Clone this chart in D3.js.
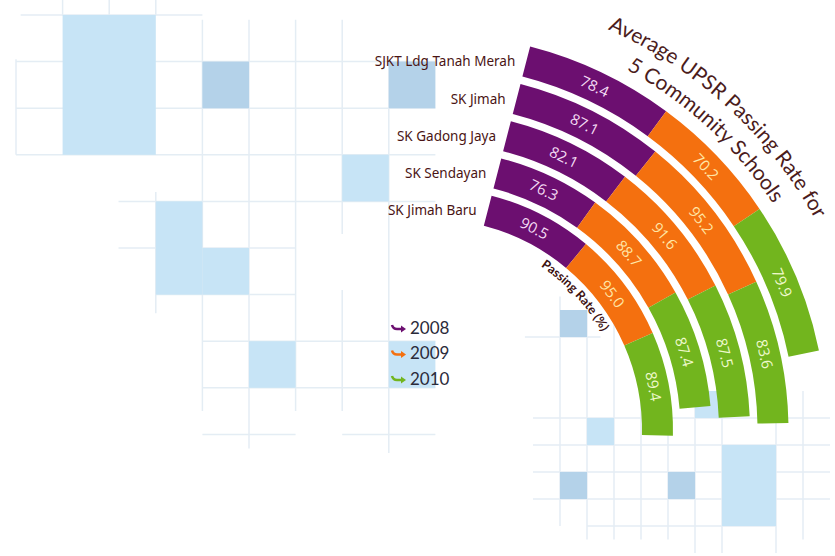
<!DOCTYPE html>
<html>
<head>
<meta charset="UTF-8">
<title>Average UPSR Passing Rate</title>
<script src="https://cdn.jsdelivr.net/npm/d3@7"></script>
<style>
  html, body { margin: 0; padding: 0; background: #fff; }
  svg { display: block; }
  .school { font-family: "Noto Sans", sans-serif; font-size: 13.5px; fill: #4a1414; }
  .val { font-family: "Open Sans", sans-serif; font-size: 15px; }
  .title { font-family: "Lato", sans-serif; font-size: 21px; fill: #4b1c1c; }
  .axis-label { font-family: "Lato", sans-serif; font-size: 12.5px; font-weight: bold; fill: #3c1010; }
  .legend { font-family: "Lato", sans-serif; font-size: 17px; fill: #2b2b3a; }
</style>
</head>
<body>
<svg width="835" height="556"></svg>
<script>

// DATA

var schools = ["SJKT Ldg Tanah Merah", "SK Jimah", "SK Gadong Jaya", "SK Sendayan", "SK Jimah Baru"];
var years = ["2008", "2009", "2010"];
var rate2008 = [78.4, 87.1, 82.1, 76.3, 90.5];
var rate2009 = [70.2, 95.2, 91.6, 88.7, 95.0];
var rate2010 = [79.9, 83.6, 87.5, 87.4, 89.4];
var yearColors = ["#6c0f70", "#f4700f", "#72b51e"];
var labelColors = ["#f4dcf4", "#ffe6a6", "#eef9cc"];

// background decoration (grid cells), [col, row, w, h, shade]
var bigCells = [[1,0,2,3,0],[4,1,1,1,1],[8,1,1,1,1],[7,3,1,1,0],[3,4,1,2,0],[4,5,1,1,0],[5,7,1,1,0],[8,7,1,1,0]];
var bigVLines = [[0,0.95,3],[1,-0.4,0],[2,-0.4,0],[3,-0.4,0],[3,3.8,6.4],[4,0.1,8.5],[5,0.1,9.3],[6,0.1,8.5],[7,0.1,4.7],[7,5.9,8.5],[8,1,9.4]];
var bigHLines = [[0,0.1,4],[1,0,9],[2,0,9],[3,0,9],[4,2.2,9],[5,2.2,6],[6,3,6],[7,4,9],[8,4,9],[9,4,6],[9,7,9]];
var smallCells = [[1,0,1,1,1],[2,4,1,1,0],[6,3,1,1,0],[1,6,1,1,1],[5,6,1,1,1],[7,5,2,3,0]];
var smallVLines = [[1,-0.5,8],[2,-0.5,8.5],[3,0,8.5],[4,2,8.5],[5,3,8.5],[6,3,9],[7,3,9],[9,3,9],[10,3,8.5]];
var smallHLines = [[1,-0.3,2.5],[4,0,11],[5,0,11],[6,0,11],[7,0,11],[8,2,9]];

// SETUP

var svg = d3.select("svg"),
    cx = 431, cy = 430,
    deg = Math.PI / 180;

var table = schools.map(function (s, i) {
  return { school: s, "2008": rate2008[i], "2009": rate2009[i], "2010": rate2010[i] };
});
var series = d3.stack().keys(years)(table);

// angle: shared value scale along the quarter ring
var angle = d3.scaleLinear().domain([0, 300]).range([14.5 * deg, 98.4 * deg]);
// radius: one band per school, outermost first
var radius = d3.scaleBand().domain(schools).range([396, 211]).paddingInner(0.195);

var arc = d3.arc()
  .innerRadius(function (d) { return radius(d.data.school); })
  .outerRadius(function (d) { return radius(d.data.school) + radius.bandwidth(); })
  .startAngle(function (d) { return angle(d[0]); })
  .endAngle(function (d) { return angle(d[1]); });

function polar(a, r) { return [cx + r * Math.sin(a), cy - r * Math.cos(a)]; }
function arcPath(r, a0, a1) {
  var p0 = polar(a0, r), p1 = polar(a1, r);
  return "M" + p0[0] + "," + p0[1] + "A" + r + "," + r + " 0 0 1 " + p1[0] + "," + p1[1];
}

// BACKGROUND

var bg = svg.append("g");
var big = { x: d3.scaleLinear().domain([0, 1]).range([16, 62.6]), y: d3.scaleLinear().domain([0, 1]).range([15, 61.6]) };
var small = { x: d3.scaleLinear().domain([0, 1]).range([533, 560]), y: d3.scaleLinear().domain([0, 1]).range([310, 337]) };

function drawGrid(grid, cells, vl, hl) {
  bg.selectAll(null).data(vl).enter().append("line")
    .attr("x1", function (d) { return grid.x(d[0]); }).attr("x2", function (d) { return grid.x(d[0]); })
    .attr("y1", function (d) { return grid.y(d[1]); }).attr("y2", function (d) { return grid.y(d[2]); })
    .attr("stroke", "#e4edf4").attr("stroke-width", 1.5);
  bg.selectAll(null).data(hl).enter().append("line")
    .attr("y1", function (d) { return grid.y(d[0]); }).attr("y2", function (d) { return grid.y(d[0]); })
    .attr("x1", function (d) { return grid.x(d[1]); }).attr("x2", function (d) { return grid.x(d[2]); })
    .attr("stroke", "#e4edf4").attr("stroke-width", 1.5);
  bg.selectAll(null).data(cells).enter().append("rect")
    .attr("x", function (d) { return grid.x(d[0]); })
    .attr("y", function (d) { return grid.y(d[1]); })
    .attr("width", function (d) { return grid.x(d[2]) - grid.x(0); })
    .attr("height", function (d) { return grid.y(d[3]) - grid.y(0); })
    .attr("fill", function (d) { return d[4] ? "#b4d2e9" : "#c7e4f6"; });
}
drawGrid(big, bigCells, bigVLines, bigHLines);
drawGrid(small, smallCells, smallVLines, smallHLines);

// RINGS

var layers = svg.append("g").selectAll("g")
  .data(series)
  .enter().append("g")
  .attr("transform", "translate(" + cx + "," + cy + ")");

layers.each(function (s, k) {
  var g = d3.select(this);
  g.selectAll("path")
    .data(s)
    .enter().append("path")
    .attr("d", arc)
    .attr("fill", yearColors[k]);

  g.selectAll("text")
    .data(s)
    .enter().append("text")
    .attr("class", "val")
    .attr("fill", labelColors[k])
    .attr("text-anchor", "middle")
    .attr("dy", "0.35em")
    .attr("transform", function (d) {
      var a = (angle(d[0]) + angle(d[1])) / 2,
          r = radius(d.data.school) + radius.bandwidth() / 2;
      return "translate(" + (r * Math.sin(a)) + "," + (-r * Math.cos(a)) + ") rotate(" + (a / deg) + ")";
    })
    .text(function (d) { return d3.format(".1f")(d[1] - d[0]); });
});

// SCHOOL LABELS

svg.append("g").selectAll("text")
  .data(schools)
  .enter().append("text")
  .attr("class", "school")
  .attr("text-anchor", "end")
  .attr("dy", "0.35em")
  .attr("x", function (d) { return polar(angle(0), radius(d) + radius.bandwidth() / 2)[0] - 11; })
  .attr("y", function (d) { return polar(angle(0), radius(d) + radius.bandwidth() / 2)[1]; })
  .text(function (d) { return d; });

// CURVED TITLE + AXIS LABEL

var defs = svg.append("defs");
defs.append("path").attr("id", "t1").attr("d", arcPath(438, -5 * deg, 90 * deg));
defs.append("path").attr("id", "t2").attr("d", arcPath(410, -5 * deg, 90 * deg));
defs.append("path").attr("id", "t3").attr("d", arcPath(197, 4 * deg, 90 * deg));

var curved = [
  { id: "t1", cls: "title", text: "Average UPSR Passing Rate for" },
  { id: "t2", cls: "title", text: "5 Community Schools" },
  { id: "t3", cls: "axis-label", text: "Passing Rate (%)" }
];
svg.append("g").selectAll("text")
  .data(curved)
  .enter().append("text")
  .attr("class", function (d) { return d.cls; })
  .append("textPath")
  .attr("href", function (d) { return "#" + d.id; })
  .attr("startOffset", "50%")
  .attr("text-anchor", "middle")
  .text(function (d) { return d.text; });

// LEGEND

var legend = svg.append("g").attr("transform", "translate(392,327)");
var item = legend.selectAll("g")
  .data(years)
  .enter().append("g")
  .attr("transform", function (d, i) { return "translate(0," + (i * 25.5) + ")"; });

item.append("path")
  .attr("d", "M0,-2 Q1,2 5,2 L10,2")
  .attr("fill", "none")
  .attr("stroke", function (d, i) { return yearColors[i]; })
  .attr("stroke-width", 2.5);
item.append("path")
  .attr("d", "M9,-1.5 L14,2 L9,5.5 Z")
  .attr("fill", function (d, i) { return yearColors[i]; });
item.append("text")
  .attr("class", "legend")
  .attr("x", 18)
  .attr("dy", "0.35em")
  .attr("y", 1)
  .text(function (d) { return d; });

</script>
</body>
</html>
